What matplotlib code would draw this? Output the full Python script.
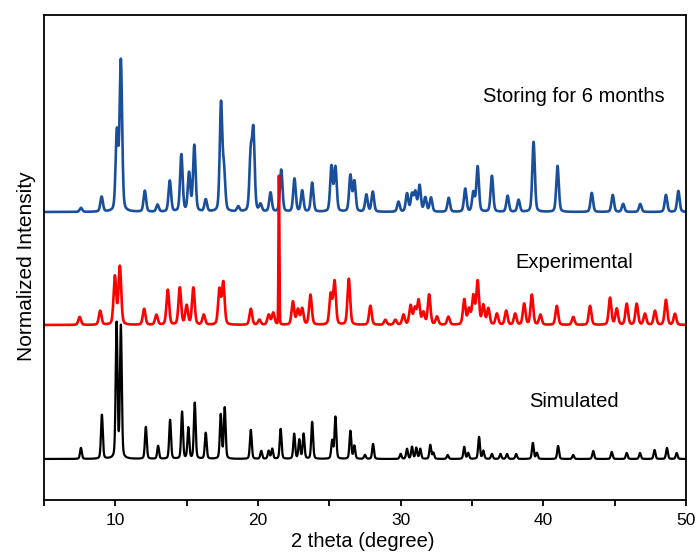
import numpy as np
import matplotlib.pyplot as plt

plt.rcParams['font.family'] = ['Liberation Sans', 'DejaVu Sans']

# peak positions (2 theta) and heights
sim_pos = [7.59, 9.06, 10.09, 10.39, 12.14, 13.0, 13.84, 14.68, 15.12, 15.57,
           16.34, 17.39, 17.67, 19.5, 20.23, 20.75, 21.0, 21.59, 22.54, 22.9,
           23.2, 23.8, 25.2, 25.43, 26.48, 26.76, 27.5, 28.07, 30.0, 30.45,
           30.8, 31.1, 31.38, 32.08, 32.3, 33.3, 34.46, 34.74, 35.5, 35.8,
           36.4, 37.0, 37.46, 38.1, 39.27, 39.55, 41.04, 42.1, 43.5, 44.8,
           45.85, 46.78, 47.8, 48.67, 49.35]
sim_h = [11, 44, 135, 132, 32, 13, 39, 47, 31, 56,
         26, 44, 51, 29, 8, 8, 10, 30, 25, 19,
         25, 37, 18, 42, 28, 13, 4, 15, 5, 10,
         12, 11, 10, 14, 6, 4, 12, 6, 22, 8,
         5, 5, 5, 5, 16, 6, 13, 4, 8, 7,
         6, 6, 9, 11, 6]

exp_pos = [7.5, 8.94, 9.97, 10.32, 12.02, 12.88, 13.68, 14.52, 15.0, 15.47,
           16.2, 17.3, 17.57, 19.5, 20.1, 20.75, 21.07, 22.45, 22.8, 23.1,
           23.68, 25.1, 25.37, 26.37, 27.88, 28.93, 29.63, 30.2, 30.7, 31.0,
           31.26, 31.6, 32.0, 32.55, 33.35, 34.46, 34.8, 35.1, 35.4, 35.8,
           36.15, 36.75, 37.4, 38.03, 38.66, 39.2, 39.8, 40.95, 42.1, 43.28,
           44.68, 45.15, 45.85, 46.55, 47.13, 47.83, 48.6, 49.23]
exp_h = [8, 14, 48, 58, 16, 10, 35, 37, 19, 37,
         10, 35, 42, 16, 5, 10, 12, 23, 15, 16,
         30, 30, 43, 46, 19, 5, 5, 10, 19, 16,
         24, 12, 30, 8, 8, 25, 15, 28, 43, 19,
         16, 11, 14, 11, 21, 30, 10, 19, 8, 19,
         27, 16, 21, 21, 11, 14, 25, 11]
spike_pos = 21.47
spike_h = 150

store_pos = [7.59, 9.04, 10.11, 10.39, 12.07, 12.96, 13.82, 14.63, 15.17, 15.54,
             16.34, 17.41, 17.62, 18.62, 19.49, 19.68, 20.18, 20.88, 21.63, 22.56,
             23.1, 23.8, 25.15, 25.43, 26.48, 26.76, 27.6, 28.05, 29.85, 30.45,
             30.8, 31.03, 31.33, 31.73, 32.13, 33.37, 34.53, 35.1, 35.4, 36.4,
             37.5, 38.27, 39.32, 41.0, 43.4, 44.87, 45.6, 46.8, 48.6, 49.47]
store_h = [4, 15, 78, 150, 21, 7, 31, 57, 38, 66,
           12, 107, 38, 5, 55, 78, 7, 19, 42, 33,
           21, 29, 45, 44, 36, 30, 17, 20, 10, 18,
           17, 19, 26, 14, 14, 14, 23, 19, 45, 36,
           16, 12, 70, 46, 19, 17, 8, 8, 17, 21]

offsets = {'sim': 41, 'exp': 175, 'store': 288}


def pattern(x, pos, h, fwhm, eta=0.3):
    y = np.zeros_like(x)
    s = fwhm / 2.3548
    g = fwhm / 2
    for p, a in zip(pos, h):
        gauss = np.exp(-0.5 * ((x - p) / s) ** 2)
        lor = g ** 2 / ((x - p) ** 2 + g ** 2)
        y += a * ((1 - eta) * gauss + eta * lor)
    return y


x = np.linspace(5, 50, 4500)
y_sim = pattern(x, sim_pos, sim_h, 0.15) + offsets['sim']
y_exp = pattern(x, exp_pos, exp_h, 0.22) + pattern(x, [spike_pos], [spike_h], 0.07, 0.1) + offsets['exp']
y_store = pattern(x, store_pos, store_h, 0.21) + offsets['store']

fig = plt.figure(figsize=(6.97, 5.52), dpi=100)
ax = fig.add_axes([0.0631, 0.0942, 0.921, 0.8786])

ax.plot(x, y_sim, color='black', lw=1.6)
ax.plot(x, y_store, color='#1a4f9c', lw=1.9)
ax.plot(x, y_exp, color='#ff0000', lw=1.9)

ax.text(0.8255, 0.8316, 'Storing for 6 months', transform=ax.transAxes, fontsize=14.5, ha='center', va='center')
ax.text(0.8255, 0.4887, 'Experimental', transform=ax.transAxes, fontsize=14.5, ha='center', va='center')
ax.text(0.8255, 0.2027, 'Simulated', transform=ax.transAxes, fontsize=14.5, ha='center', va='center')

ax.set_xlim(5, 50)
ax.set_ylim(0, 485)
ax.set_xticks([10, 20, 30, 40, 50])
ax.set_xticks([5, 15, 25, 35, 45], minor=True)
ax.tick_params(axis='x', which='both', direction='out', length=4.5, width=1.3, labelsize=12.5, pad=5)
ax.set_yticks([])
for sp in ax.spines.values():
    sp.set_linewidth(1.3)

ax.set_xlabel('2 theta (degree)', fontsize=14.5)
ax.xaxis.set_label_coords(0.497, -0.066)
ax.set_ylabel('Normalized Intensity', fontsize=15)
ax.yaxis.set_label_coords(-0.012, 0.4825)

plt.savefig('out.png', dpi=100)
